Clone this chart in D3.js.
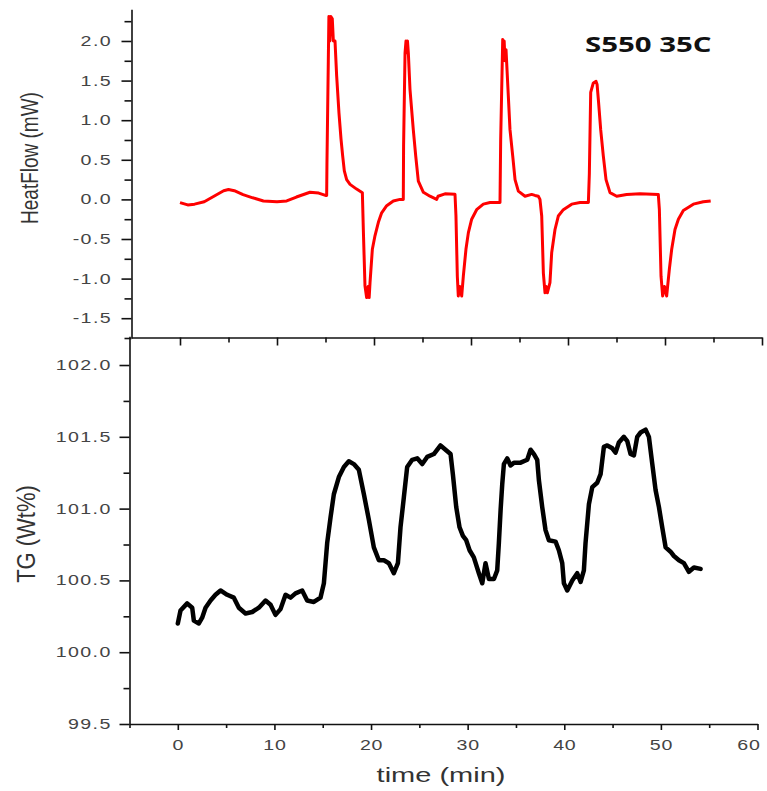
<!DOCTYPE html>
<html>
<head>
<meta charset="utf-8">
<script src="https://cdn.jsdelivr.net/npm/d3@7"></script>
<style>
  html, body { margin: 0; padding: 0; background: #ffffff; }
  svg { display: block; }
</style>
</head>
<body>
<script>
// ---- Heat flow (DSC) trace, mW vs time (min) ----
const heatTime = [0, 0.8, 1.5, 2.5, 3.5, 4.5, 5.0, 5.6, 6.5, 7.5, 8.6, 10, 11, 12, 13.4, 14.3, 15.0, 15.12,
  15.15, 15.29, 15.35, 15.45, 15.55, 15.7, 15.81, 15.98, 16.15, 16.39, 16.6, 16.77, 16.94, 17.18, 17.53, 18.21, 18.8,
  18.9, 19.07, 19.24, 19.4, 19.5, 19.59, 19.83, 20.1, 20.45, 20.79, 21.31, 21.99, 22.68, 23.02,
  23.05, 23.2, 23.3, 23.37, 23.45, 23.54, 23.71, 24.05, 24.3, 24.57, 25.09, 25.77, 26.46, 26.6, 27.32, 28.35,
  28.45, 28.59, 28.69, 28.85, 29.04, 29.21, 29.48, 29.73, 30.07, 30.58, 31.27, 31.96, 32.99,
  33.06, 33.2, 33.27, 33.33, 33.42, 33.5, 33.61, 33.85, 34.02, 34.3, 34.54, 34.88, 35.57, 36.25, 36.6, 36.94, 37.11,
  37.29, 37.46, 37.63, 37.75, 37.87, 38.14, 38.32, 38.66, 39.0, 39.52, 40.38, 41.24, 42.1,
  42.2, 42.34, 42.61, 42.89, 43.0, 43.13, 43.37, 43.64, 43.92, 44.33, 45.02, 46.05, 47.42, 49.31,
  49.42, 49.59, 49.76, 49.95, 50.17, 50.45, 50.69, 51.03, 51.38, 51.89, 52.92, 53.95, 54.71];
const heatFlow = [-0.04, -0.07, -0.06, -0.03, 0.04, 0.11, 0.125, 0.11, 0.06, 0.02, -0.02, -0.03, -0.02, 0.03, 0.09, 0.08, 0.05, 0.05,
  0.46, 1.75, 2.31, 2.0, 2.31, 2.28, 2.0, 2.0, 1.56, 1.09, 0.76, 0.55, 0.36, 0.25, 0.19, 0.13, 0.085,
  -0.38, -1.09, -1.24, -1.1, -1.24, -1.05, -0.63, -0.46, -0.29, -0.17, -0.08, -0.02, 0.0, 0.0,
  0.67, 1.85, 2.0, 1.85, 2.0, 1.85, 1.39, 0.88, 0.55, 0.23, 0.09, 0.04, 0.0, 0.04, 0.07, 0.065,
  -0.21, -0.97, -1.22, -1.1, -1.22, -0.97, -0.63, -0.42, -0.25, -0.13, -0.06, -0.04, -0.04,
  0.76, 1.6, 2.02, 1.75, 2.0, 1.75, 1.89, 1.30, 0.88, 0.55, 0.25, 0.105, 0.04, 0.063, 0.05, 0.04, 0.0,
  -0.21, -0.93, -1.18, -1.1, -1.18, -1.05, -0.67, -0.38, -0.21, -0.13, -0.06, -0.04, -0.04,
  0.32, 1.35, 1.47, 1.49, 1.45, 1.26, 0.88, 0.55, 0.25, 0.085, 0.04, 0.063, 0.07, 0.063,
  -0.13, -0.97, -1.22, -1.1, -1.22, -0.88, -0.63, -0.38, -0.25, -0.14, -0.06, -0.03, -0.02];

// ---- TG trace, Wt% vs time (min) ----
const tgTime = [0.0, 0.28, 0.97, 1.49, 1.66, 2.18, 2.52, 2.87, 3.39, 3.90,
  4.42, 5.11, 5.80, 6.32, 7.01, 7.70, 8.39, 9.08, 9.60, 10.11,
  10.63, 11.15, 11.67, 12.18, 12.87, 13.39, 14.08, 14.77, 15.12, 15.46,
  15.81, 16.15, 16.67, 17.19, 17.70, 18.22, 18.74, 19.26, 19.78, 20.29,
  20.81, 21.33, 21.85, 22.36, 22.78, 23.05, 23.40, 23.74, 24.26, 24.78,
  25.30, 25.81, 26.50, 27.19, 28.23, 28.47, 28.82, 29.16, 29.51, 29.85,
  30.20, 30.64, 31.16, 31.51, 31.85, 32.20, 32.72, 33.06, 33.23, 33.41,
  33.58, 33.75, 34.10, 34.44, 34.79, 35.48, 36.17, 36.51, 36.86, 37.20,
  37.37, 37.72, 38.06, 38.41, 39.10, 39.44, 39.79, 39.96, 40.31, 40.83,
  41.34, 41.69, 42.03, 42.20, 42.55, 42.90, 43.41, 43.76, 44.10, 44.45,
  44.97, 45.31, 45.65, 46.17, 46.52, 46.86, 47.21, 47.55, 47.90, 48.42,
  48.76, 49.11, 49.45, 49.80, 50.14, 50.49, 51.00, 51.35, 51.87, 52.38,
  52.90, 53.42, 54.11];
const tgWeight = [100.20, 100.29, 100.34, 100.31, 100.22, 100.20, 100.24, 100.31, 100.36, 100.40,
  100.43, 100.40, 100.38, 100.31, 100.27, 100.28, 100.31, 100.36, 100.33, 100.26,
  100.30, 100.40, 100.38, 100.41, 100.43, 100.36, 100.35, 100.38, 100.48, 100.76,
  100.94, 101.10, 101.22, 101.29, 101.33, 101.31, 101.27, 101.10, 100.92, 100.73,
  100.64, 100.64, 100.62, 100.55, 100.62, 100.87, 101.08, 101.29, 101.34, 101.35,
  101.31, 101.36, 101.38, 101.44, 101.38, 101.24, 101.01, 100.87, 100.81, 100.78,
  100.71, 100.66, 100.55, 100.48, 100.62, 100.51, 100.51, 100.57, 100.76, 100.99,
  101.17, 101.31, 101.35, 101.30, 101.32, 101.32, 101.34, 101.41, 101.38, 101.34,
  101.20, 101.01, 100.85, 100.78, 100.77, 100.71, 100.62, 100.48, 100.43, 100.50,
  100.55, 100.49, 100.57, 100.76, 101.03, 101.15, 101.18, 101.24, 101.43, 101.44,
  101.42, 101.39, 101.46, 101.50, 101.47, 101.38, 101.37, 101.50, 101.53, 101.55,
  101.50, 101.31, 101.13, 101.01, 100.87, 100.73, 100.70, 100.67, 100.64, 100.62,
  100.56, 100.59, 100.58];

// ---- Ticks ----
const timeMajorTicks = [0, 10, 20, 30, 40, 50, 60];
const timeMinorTicks = [-5, 5, 15, 25, 35, 45, 55];
const heatMajorTicks = [-1.5, -1.0, -0.5, 0.0, 0.5, 1.0, 1.5, 2.0];
const heatMinorTicks = [-1.75, -1.25, -0.75, -0.25, 0.25, 0.75, 1.25, 1.75, 2.25];
const tgMajorTicks = [99.5, 100.0, 100.5, 101.0, 101.5, 102.0];
const tgMinorTicks = [99.75, 100.25, 100.75, 101.25, 101.75];

const W = 767, H = 791;
const TXT_SX = 1.4;           // horizontal glyph stretch used for all labels
const FONT = "'Liberation Sans', Arial, sans-serif";

const svg = d3.select("body").append("svg")
  .attr("width", W).attr("height", H)
  .attr("viewBox", `0 0 ${W} ${H}`);
svg.append("rect").attr("width", W).attr("height", H).attr("fill", "#fff");

// ---- Scales ----
const xTop = d3.scaleLinear().domain([-5, 60]).range([131.5, 762]);
const yTop = d3.scaleLinear().domain([-1.75, 2.4]).range([338, 9.3]);
const xBot = d3.scaleLinear().domain([-5, 60]).range([129.5, 757.5]);
const yBot = d3.scaleLinear().domain([99.5, 102.2]).range([724, 336.3]);

function styleAxis(g, width) {
  g.selectAll("path.domain").attr("stroke", "#111").attr("stroke-width", width);
  g.selectAll(".tick line").attr("stroke", "#111").attr("stroke-width", width);
}

// ---- Heat flow panel axes ----
const topLeft = svg.append("g").attr("transform", `translate(${xTop(-5)},0)`);
topLeft.call(d3.axisLeft(yTop).tickValues(heatMajorTicks).tickSize(10).tickSizeOuter(0)
  .tickFormat(d => d.toFixed(1)));
topLeft.append("g").call(d3.axisLeft(yTop).tickValues(heatMinorTicks).tickSize(7).tickSizeOuter(0).tickFormat(""))
  .select("path.domain").remove();
styleAxis(topLeft, 1.6);
topLeft.selectAll(".tick text")
  .attr("x", -13.9).attr("transform", `scale(${TXT_SX},1)`)
  .attr("font-family", FONT).attr("font-size", 14).attr("fill", "#444")
  .attr("letter-spacing", 1);

const topBottom = svg.append("g").attr("transform", `translate(0,337.5)`);
topBottom.call(d3.axisBottom(xTop).tickValues(timeMajorTicks).tickSize(8).tickSizeOuter(0).tickFormat(""));
topBottom.append("g").call(d3.axisBottom(xTop).tickValues(timeMinorTicks.filter(t => t > 0)).tickSize(5).tickSizeOuter(0).tickFormat(""))
  .select("path.domain").remove();
styleAxis(topBottom, 1.6);

// ---- TG panel axes ----
const botLeft = svg.append("g").attr("transform", `translate(${xBot(-5)},0)`);
botLeft.call(d3.axisLeft(yBot).tickValues(tgMajorTicks).tickSize(10).tickSizeOuter(0)
  .tickFormat(d => d.toFixed(1)));
botLeft.append("g").call(d3.axisLeft(yBot).tickValues(tgMinorTicks).tickSize(6).tickSizeOuter(0).tickFormat(""))
  .select("path.domain").remove();
styleAxis(botLeft, 1.6);
botLeft.selectAll(".tick text")
  .attr("x", -12.7).attr("transform", `scale(${TXT_SX},1)`)
  .attr("font-family", FONT).attr("font-size", 14).attr("fill", "#444")
  .attr("letter-spacing", 1);

const botBottom = svg.append("g").attr("transform", `translate(0,${yBot(99.5)})`);
botBottom.call(d3.axisBottom(xBot).tickValues(timeMajorTicks).tickSize(6).tickSizeOuter(0)
  .tickFormat(d => String(d)));
botBottom.append("g").call(d3.axisBottom(xBot).tickValues(timeMinorTicks).tickSize(4).tickSizeOuter(0).tickFormat(""))
  .select("path.domain").remove();
styleAxis(botBottom, 1.6);
botBottom.selectAll(".tick text")
  .attr("y", 16).attr("dy", "0.71em")
  .attr("transform", `scale(${TXT_SX},1)`)
  .attr("font-family", FONT).attr("font-size", 14).attr("fill", "#444")
  .attr("letter-spacing", 0.5);
// keep the last label inside the page edge
botBottom.selectAll(".tick text").filter(d => d === 60).attr("x", -6.5);

// ---- Traces ----
const heatData = d3.zip(heatTime, heatFlow);
const tgData = d3.zip(tgTime, tgWeight);

svg.append("path")
  .datum(heatData)
  .attr("fill", "none")
  .attr("stroke", "#ff0000")
  .attr("stroke-width", 3)
  .attr("stroke-linejoin", "round")
  .attr("d", d3.line().x(d => xTop(d[0])).y(d => yTop(d[1])));

svg.append("path")
  .datum(tgData)
  .attr("fill", "none")
  .attr("stroke", "#000")
  .attr("stroke-width", 4.5)
  .attr("stroke-linejoin", "round")
  .attr("stroke-linecap", "round")
  .attr("d", d3.line().x(d => xBot(d[0])).y(d => yBot(d[1])));

// ---- Titles ----
function label(text, x, y, opts) {
  const t = svg.append("text")
    .attr("transform", `translate(${x},${y}) scale(${opts.sx},1)${opts.rotate ? " rotate(-90)" : ""}`)
    .attr("text-anchor", opts.anchor || "middle")
    .attr("font-family", opts.family || FONT)
    .attr("font-size", opts.size)
    .attr("font-weight", opts.weight || "normal")
    .attr("fill", opts.fill || "#333")
    .text(text);
  if (opts.central) t.attr("dominant-baseline", "central");
  return t;
}

label("HeatFlow (mW)", 30, 158, { sx: 1.25, rotate: true, size: 19, central: true });
label("TG (Wt%)", 26, 534, { sx: 1.2, rotate: true, size: 22, central: true });
label("time (min)", 441, 782, { sx: 1.45, size: 20 });
label("S550 35C", 585, 52, { sx: 1.4, size: 21, weight: 700, anchor: "start",
  family: "'Open Sans', 'DejaVu Sans', sans-serif", fill: "#111" });
</script>
</body>
</html>
